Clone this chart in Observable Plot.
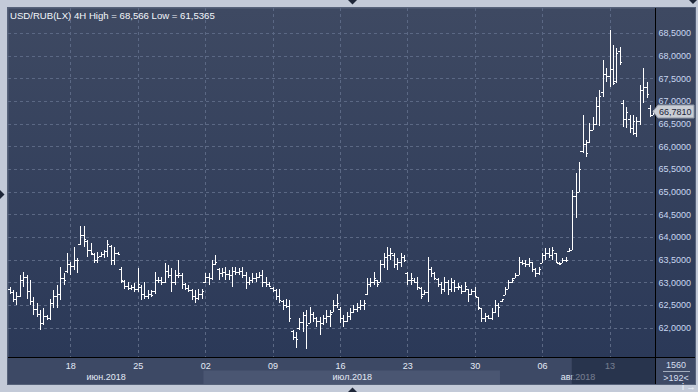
<!DOCTYPE html>
<html><head><meta charset="utf-8">
<script src="https://cdn.jsdelivr.net/npm/d3@7"></script>
<script src="https://cdn.jsdelivr.net/npm/@observablehq/plot@0.6"></script>
<style>
html,body{margin:0;padding:0;background:#c3cad8;}
#chart{width:698px;height:392px;position:relative;overflow:hidden}
#chart svg{display:block}
</style></head><body><div id="chart"></div>
<script>
const title = "USD/RUB(LX) 4H High = 68,566 Low = 61,5365";
const high = [62.90,62.83,62.79,63.16,63.23,63.16,63.05,62.68,62.53,62.39,
62.42,62.28,62.64,62.83,62.94,63.34,63.20,63.64,63.45,63.78,
63.53,64.23,64.23,63.93,63.86,63.64,63.67,63.67,63.71,63.93,
63.82,63.78,63.67,63.34,63.05,63.01,62.94,62.98,63.31,62.94,
63.01,62.83,62.83,63.23,63.12,63.12,63.42,63.38,63.31,63.27,
63.49,63.20,62.98,62.94,62.86,62.83,62.86,62.86,63.20,63.20,
63.49,63.60,63.31,63.31,63.34,63.27,63.34,63.34,63.31,63.34,
63.23,63.12,63.20,63.20,63.23,63.27,63.12,63.01,62.90,62.86,
62.86,62.61,62.64,62.61,61.95,61.91,62.20,62.35,62.39,62.46,
62.35,62.24,62.24,62.28,62.39,62.39,62.61,62.75,62.46,62.28,
62.35,62.42,62.50,62.53,62.61,62.61,63.09,63.09,63.23,63.05,
63.49,63.64,63.78,63.75,63.64,63.53,63.64,63.60,63.23,63.20,
63.09,63.12,62.90,62.83,63.56,63.34,63.23,63.09,63.01,63.12,
63.05,63.09,63.05,62.98,62.94,63.01,62.86,62.86,62.90,62.68,
62.42,62.31,62.28,62.42,62.61,62.53,62.64,62.90,63.05,63.09,
63.20,63.56,63.49,63.49,63.53,63.45,63.31,63.34,63.64,63.75,
63.75,63.78,63.64,63.45,63.53,63.56,63.75,65.04,65.41,65.65,
66.69,66.14,66.51,66.65,67.09,67.24,67.90,67.73,68.566,68.24,
68.17,68.19,67.02,66.87,66.69,66.69,66.65,67.35,67.73,67.42,
66.91,66.80];
const low = [62.74,62.57,62.50,62.68,62.90,62.64,62.50,62.28,62.24,61.95,
62.06,62.17,62.17,62.42,62.42,62.61,62.94,63.20,63.16,63.27,
63.20,63.82,63.78,63.56,63.60,63.42,63.42,63.56,63.53,63.56,
63.38,63.38,63.60,62.98,62.86,62.83,62.83,62.79,62.79,62.61,
62.64,62.64,62.68,62.75,62.98,62.94,62.98,63.09,62.79,62.94,
63.09,62.86,62.83,62.79,62.61,62.53,62.61,62.64,62.98,62.94,
63.05,63.38,63.05,63.12,63.05,63.05,62.90,63.16,63.16,63.09,
62.86,62.94,62.98,63.01,63.09,62.90,62.90,62.90,62.79,62.61,
62.53,62.39,62.42,62.13,61.72,61.54,61.95,61.91,61.5365,62.09,
62.13,62.02,61.83,62.06,62.09,62.02,62.35,62.42,62.09,62.02,
62.13,62.17,62.31,62.35,62.39,62.39,62.72,62.90,62.94,62.90,
63.01,63.31,63.27,63.49,63.31,63.27,63.34,63.45,62.94,62.94,
62.98,62.83,62.64,62.72,62.57,63.12,63.05,62.90,62.75,62.79,
62.72,62.79,62.79,62.83,62.75,62.79,62.57,62.72,62.68,62.39,
62.13,62.13,62.20,62.17,62.31,62.24,62.57,62.72,62.86,62.98,
63.09,63.16,63.38,63.34,63.34,63.23,63.12,63.16,63.42,63.49,
63.53,63.49,63.42,63.38,63.42,63.45,63.67,63.71,64.42,64.99,
65.85,65.76,66.07,66.36,66.47,66.45,67.09,67.42,67.31,67.35,
67.40,67.80,66.43,66.40,66.29,66.25,66.21,66.47,66.96,67.07,
66.65,66.69];
const open = [62.85,62.78,62.62,62.70,63.05,63.12,62.80,62.58,62.40,62.30,
62.10,62.25,62.20,62.55,62.70,62.75,63.10,63.25,63.40,63.35,
63.50,63.85,64.05,63.90,63.70,63.62,63.50,63.58,63.62,63.68,
63.80,63.50,63.65,63.30,63.02,62.92,62.88,62.90,62.85,62.90,
62.75,62.70,62.75,62.80,63.05,63.05,63.00,63.25,63.15,63.00,
63.15,63.15,62.95,62.88,62.82,62.70,62.65,62.75,63.00,63.12,
63.10,63.40,63.30,63.20,63.22,63.18,63.15,63.25,63.22,63.25,
63.15,63.00,63.05,63.10,63.12,63.15,63.00,62.95,62.88,62.82,
62.70,62.58,62.50,62.48,61.92,61.80,62.00,62.12,62.28,62.10,
62.30,62.20,62.15,62.10,62.20,62.25,62.35,62.50,62.40,62.20,
62.15,62.25,62.35,62.40,62.45,62.50,62.75,62.95,63.00,63.05,
63.01,63.40,63.55,63.60,63.60,63.40,63.45,63.55,63.20,63.05,
63.05,63.00,62.88,62.75,62.78,63.30,63.20,63.08,62.95,62.85,
63.00,62.85,63.00,62.90,62.90,62.80,62.85,62.75,62.80,62.68,
62.42,62.20,62.25,62.22,62.35,62.50,62.58,62.72,62.86,63.00,
63.10,63.16,63.45,63.42,63.40,63.45,63.30,63.20,63.42,63.60,
63.65,63.60,63.64,63.42,63.42,63.48,63.68,63.72,64.90,65.00,
65.90,66.05,66.10,66.36,66.50,66.90,67.20,67.60,67.55,67.70,
67.45,68.10,66.95,66.60,66.60,66.40,66.30,66.55,67.25,67.30,
66.85,66.70];
const close = [62.78,62.62,62.70,63.05,63.12,62.80,62.58,62.40,62.30,62.10,
62.25,62.20,62.55,62.70,62.75,63.10,63.05,63.40,63.35,63.50,
63.48,64.05,63.95,63.70,63.65,63.50,63.55,63.62,63.68,63.85,
63.50,63.65,63.63,63.05,62.92,62.88,62.90,62.85,62.95,62.75,
62.70,62.75,62.72,63.05,63.05,63.00,63.25,63.15,63.00,63.15,
63.20,62.95,62.88,62.82,62.70,62.65,62.75,62.80,63.12,63.10,
63.40,63.45,63.20,63.22,63.18,63.15,63.25,63.22,63.25,63.15,
63.00,63.05,63.10,63.12,63.15,63.00,62.95,62.92,62.82,62.70,
62.60,62.50,62.48,62.20,61.80,61.75,62.12,62.28,62.05,62.30,
62.20,62.15,62.10,62.20,62.25,62.30,62.50,62.55,62.20,62.15,
62.25,62.35,62.40,62.45,62.50,62.55,62.95,63.00,63.10,62.95,
63.40,63.55,63.60,63.65,63.40,63.45,63.55,63.50,63.05,63.10,
63.00,62.90,62.70,62.78,63.30,63.20,63.10,62.95,62.85,63.00,
62.85,63.00,62.90,62.92,62.80,62.92,62.75,62.80,62.70,62.45,
62.20,62.25,62.22,62.35,62.50,62.45,62.62,62.85,63.00,63.05,
63.15,63.45,63.42,63.40,63.45,63.30,63.20,63.30,63.60,63.65,
63.60,63.70,63.45,63.40,63.48,63.50,63.72,64.90,65.00,65.50,
66.05,65.85,66.35,66.50,66.90,67.10,67.60,67.55,67.70,67.40,
68.05,67.85,66.60,66.75,66.40,66.55,66.55,67.25,67.30,67.15,
66.70,66.781];
const weekIdx = [18,38,58,78,98,118,138,158,178];
const weekLabels = ["18","25","02","09","16","23","30","06","13"];
const yTicks = [62,62.5,63,63.5,64,64.5,65,65.5,66,66.5,67,67.5,68,68.5];
const months = ["июн.2018","июл.2018","авг.2018"];
const monthStart = [-0.5,57.5,145.5];
const monthEnd = [57.5,145.5,191.5];
const lastPrice = 66.781;
const lastLabel = "66,7810";
const overlayStart = 166.8;
const footerTop = "1560";
const footerBottom = ">192<";

const bars = high.map((h,i)=>({i, high:h, low:low[i], open:open[i], close:close[i]}));
const monthCenters = monthStart.map((s,k)=>(s+monthEnd[k])/2);
const fmt = v => v.toFixed(4).replace(".", ",");
const FONT = "'Liberation Sans', Arial, sans-serif";

const chart = Plot.plot({
  width: 698, height: 392,
  marginLeft: 8, marginRight: 43, marginTop: 8, marginBottom: 35,
  style: {background: "transparent", fontFamily: FONT, fontSize: "9px", overflow: "visible"},
  x: {domain: [-0.5, 191.5], axis: null},
  y: {domain: [61.349, 69.053], axis: null},
  marks: [
    Plot.frame({fill: "url(#bgGrad)", stroke: null}),
    Plot.gridY(yTicks, {stroke: "#5b6884", strokeOpacity: 1, strokeDasharray: "3,3", shapeRendering: "crispEdges"}),
    Plot.gridX(weekIdx, {stroke: "#5b6884", strokeOpacity: 1, strokeDasharray: "3,3", shapeRendering: "crispEdges"}),
    Plot.ruleX(bars, {x: "i", y1: "low", y2: "high", stroke: "#ffffff", strokeWidth: 1, shapeRendering: "crispEdges"}),
    Plot.ruleY(bars, {y: "open", x1: d => d.i - 0.62, x2: "i", stroke: "#ffffff", strokeWidth: 1, shapeRendering: "crispEdges"}),
    Plot.ruleY(bars, {y: "close", x1: "i", x2: d => d.i + 0.62, stroke: "#ffffff", strokeWidth: 1, shapeRendering: "crispEdges"}),
    Plot.axisY(yTicks, {anchor: "right", tickSize: 0, tickPadding: 3, tickFormat: fmt, fill: "#c9d7f0", fontSize: 9}),
    Plot.axisX(weekIdx, {anchor: "bottom", tickSize: 0, tickPadding: 5, tickFormat: d => weekLabels[weekIdx.indexOf(d)], fill: "#e4eaf5", fontSize: 9}),
    Plot.axisX(monthCenters, {anchor: "bottom", tickSize: 0, tickPadding: 16, tickFormat: d => months[monthCenters.indexOf(d)], fill: "#e4eaf5", fontSize: 9})
  ]
});
document.getElementById("chart").appendChild(chart);

const svg = d3.select(chart);
const X = chart.scale("x"), Y = chart.scale("y");
const sx = v => X.apply(v), sy = v => Y.apply(v);
const L = 8, R = 655, T = 8, B = 357, PR = 695, PB = 384;

const defs = svg.insert("defs", ":first-child");
const g1 = defs.append("linearGradient").attr("id","bgGrad").attr("x1",0).attr("y1",0).attr("x2",0).attr("y2",1);
g1.append("stop").attr("offset","0%").attr("stop-color","#3e4962");
g1.append("stop").attr("offset","100%").attr("stop-color","#2b3958");

const bg = svg.insert("g", "defs + *");
bg.append("rect").attr("x", L-1).attr("y", T-1).attr("width", PR-L+2).attr("height", PB-T+2).attr("fill", "#56627a");
bg.append("rect").attr("x", R).attr("y", T).attr("width", PR-R).attr("height", B-T).attr("fill", "url(#bgGrad)");
bg.append("rect").attr("x", L).attr("y", B).attr("width", PR-L).attr("height", PB-B).attr("fill", "#3d4965");
monthStart.forEach((s,k)=>{
  if (k % 2 === 1) bg.append("rect").attr("x", sx(s)).attr("y", 370.5).attr("width", sx(monthEnd[k]) - sx(s)).attr("height", PB-370.5).attr("fill", "#4a5672");
});

const ov = svg.append("g").attr("text-anchor", "start");
ov.append("rect").attr("x", sx(overlayStart)).attr("y", B).attr("width", R - sx(overlayStart)).attr("height", PB-B).attr("fill", "#17223b").attr("opacity", 0.55);
ov.append("line").attr("x1", R+0.5).attr("x2", R+0.5).attr("y1", T).attr("y2", PB).attr("stroke", "#000");
ov.append("line").attr("x1", L).attr("x2", PR).attr("y1", B+0.5).attr("y2", B+0.5).attr("stroke", "#000");
ov.append("text").attr("x", 10).attr("y", 18.5).attr("text-anchor", "start").attr("fill", "#f2f5fa").attr("font-family", FONT).attr("font-size", "9.6px").text(title);
// last price label
const py = Math.round(sy(lastPrice)) + 0.5;
ov.append("path").attr("d", `M${R-2},${py} L${R+3},${py-6.5} L${PR-1},${py-6.5} L${PR-1},${py+6.5} L${R+3},${py+6.5} Z`)
  .attr("fill", "#c9cdd4").attr("stroke", "#8e96a5");
ov.append("text").attr("x", R+4).attr("y", py+3.5).attr("text-anchor", "start").attr("fill", "#1b2438").attr("font-family", FONT).attr("font-size", "9px").text(lastLabel);
// footer box
ov.append("text").attr("x", 676).attr("y", 368).attr("text-anchor","middle").attr("fill", "#d6dfef").attr("font-family", FONT).attr("font-size", "9px").text(footerTop);
ov.append("line").attr("x1", 663).attr("x2", 690).attr("y1", 371.5).attr("y2", 371.5).attr("stroke", "#a2acbd");
ov.append("text").attr("x", 676).attr("y", 381).attr("text-anchor","middle").attr("fill", "#d6dfef").attr("font-family", FONT).attr("font-size", "9px").text(footerBottom);
// small window triangles
const tri = [[[348,0],[357,0],[352.5,4.5]],[[0,190],[0,199],[4.5,194.5]],[[348,392],[357,392],[352.5,387.5]],[[689,0],[697,0],[693,4]]];
tri.forEach(p => ov.append("path").attr("d", "M" + p.map(q=>q.join(",")).join("L") + "Z").attr("fill", "#1e2638"));
</script></body></html>
